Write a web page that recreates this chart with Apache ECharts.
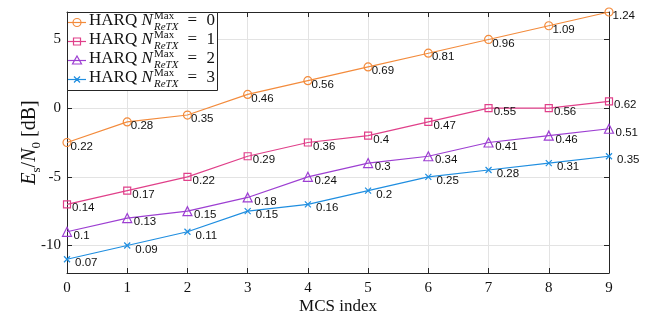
<!DOCTYPE html>
<html>
<head>
<meta charset="utf-8">
<script src="https://cdn.jsdelivr.net/npm/echarts@6/dist/echarts.min.js"></script>
<style>
html,body{margin:0;padding:0;background:#fff;}
#chart{width:651px;height:324px;}
</style>
</head>
<body>
<div id="chart"></div>
<script>
// ---- data ----
const mcsIndex = [0, 1, 2, 3, 4, 5, 6, 7, 8, 9];
const seriesNames = ['HARQ N_ReTX^Max = 0', 'HARQ N_ReTX^Max = 1', 'HARQ N_ReTX^Max = 2', 'HARQ N_ReTX^Max = 3'];
const retxValues = ['0', '1', '2', '3'];
const esn0Harq0 = [-2.5, -1, -0.5, 1, 2, 3, 4, 5, 6, 7];
const esn0Harq1 = [-7, -6, -5, -3.5, -2.5, -2, -1, 0, 0, 0.5];
const esn0Harq2 = [-9, -8, -7.5, -6.5, -5, -4, -3.5, -2.5, -2, -1.5];
const esn0Harq3 = [-11, -10, -9, -7.5, -7, -6, -5, -4.5, -4, -3.5];
const labelsHarq0 = ['0.22', '0.28', '0.35', '0.46', '0.56', '0.69', '0.81', '0.96', '1.09', '1.24'];
const labelsHarq1 = ['0.14', '0.17', '0.22', '0.29', '0.36', '0.4', '0.47', '0.55', '0.56', '0.62'];
const labelsHarq2 = ['0.1', '0.13', '0.15', '0.18', '0.24', '0.3', '0.34', '0.41', '0.46', '0.51'];
const labelsHarq3 = ['0.07', '0.09', '0.11', '0.15', '0.16', '0.2', '0.25', '0.28', '0.31', '0.35'];
const yTickValues = [-10, -5, 0, 5];

// ---- styling ----
const serif = '"Liberation Serif", "DejaVu Serif", serif';
const sans = '"Liberation Sans", Arial, sans-serif';
const axisColor = '#262626';
const gridColor = '#e3e3e3';
const colors = ['#f38b3c', '#e0408a', '#9d3fd2', '#1f8ee0'];
const crossPath = 'path://M0,0L10,10M10,0L0,10';
const symbols = ['circle', 'rect', 'triangle', crossPath];
const symbolSizes = [8, 7, 9, 6];
const labelDx = [3, 4.5, 6, 7.5];

const allValues = [esn0Harq0, esn0Harq1, esn0Harq2, esn0Harq3];
const allLabels = [labelsHarq0, labelsHarq1, labelsHarq2, labelsHarq3];

const series = allValues.map((vals, k) => ({
  name: seriesNames[k],
  type: 'line',
  data: mcsIndex.map((x, i) => [x, vals[i]]),
  symbol: symbols[k],
  symbolSize: symbolSizes[k],
  showAllSymbol: true,
  lineStyle: { color: colors[k], width: 1.2 },
  itemStyle: { color: 'rgba(255,255,255,0)', borderColor: colors[k], borderWidth: 1.2 },
  label: {
    show: true,
    position: 'right',
    distance: 0,
    offset: [labelDx[k] - symbolSizes[k] / 2, 4],
    fontFamily: sans,
    fontSize: 11.5,
    color: '#111',
    formatter: p => allLabels[k][p.dataIndex]
  },
  emphasis: { disabled: true },
  z: 3
}));

// ---- legend drawn with graphic elements ----
const legendX = 67.5, legendY = 12.5, legendW = 150, legendH = 78;
const rowY = [22.5, 41.5, 60.5, 79.5];
const legendEls = [{
  type: 'rect',
  shape: { x: legendX, y: legendY, width: legendW, height: legendH },
  style: { fill: '#fff', stroke: axisColor, lineWidth: 1 },
  z: 10
}];
function iconShape(k, cx, cy) {
  const st = { fill: 'none', stroke: colors[k], lineWidth: 1.2 };
  if (k === 0) return { type: 'circle', shape: { cx, cy, r: 4 }, style: st, z: 12 };
  if (k === 1) return { type: 'rect', shape: { x: cx - 3.5, y: cy - 3.5, width: 7, height: 7 }, style: st, z: 12 };
  if (k === 2) return { type: 'polygon', shape: { points: [[cx, cy - 4.5], [cx + 4.5, cy + 3.5], [cx - 4.5, cy + 3.5]] }, style: st, z: 12 };
  return { type: 'polyline', shape: { points: [[cx - 3, cy - 3], [cx + 3, cy + 3], [cx, cy], [cx + 3, cy - 3], [cx - 3, cy + 3]] }, style: st, z: 12 };
}
rowY.forEach((y, k) => {
  legendEls.push({ type: 'line', shape: { x1: 68, y1: y, x2: 86, y2: y }, style: { stroke: colors[k], lineWidth: 1.2 }, z: 11 });
  legendEls.push(iconShape(k, 77, y));
  const t = (text, x, yy, size, italic) => ({
    type: 'text', z: 12,
    style: { text, x, y: yy, fontSize: size, fontFamily: serif, fontStyle: italic ? 'italic' : 'normal', fill: '#111', verticalAlign: 'middle', align: 'left' }
  });
  legendEls.push(t('HARQ', 89, y - 1.5, 17, false));
  legendEls.push(t('N', 141.5, y - 1.5, 17, true));
  legendEls.push(t('Max', 154, y - 6.5, 11, false));
  legendEls.push(t('ReTX', 154, y + 4.8, 11, true));
  legendEls.push(t('=', 187.5, y - 1.5, 17, false));
  legendEls.push(t(retxValues[k], 206.5, y - 1.5, 17, false));
});

const option = {
  animation: false,
  backgroundColor: '#fff',
  grid: { left: 67, right: 42, top: 12, bottom: 51 },
  xAxis: [{
    type: 'value', min: 0, max: 9, interval: 1,
    name: 'MCS index', nameLocation: 'middle', nameGap: 25, nameMoveOverlap: false,
    nameTextStyle: { fontFamily: serif, fontSize: 17, color: '#111' },
    axisLine: { show: true, onZero: false, lineStyle: { color: axisColor, width: 1 } },
    axisTick: { show: true, inside: true, length: 5, lineStyle: { color: axisColor } },
    axisLabel: { fontFamily: serif, fontSize: 15, color: '#111', margin: 8 },
    splitLine: { show: true, lineStyle: { color: gridColor, width: 1 } }
  }, {
    type: 'value', min: 0, max: 9, interval: 1, position: 'top',
    axisLine: { show: true, onZero: false, lineStyle: { color: axisColor, width: 1 } },
    axisTick: { show: true, inside: true, length: 5, lineStyle: { color: axisColor } },
    axisLabel: { show: false },
    splitLine: { show: false }
  }],
  yAxis: [{
    type: 'value', min: -12, max: 7,
    name: '{i|E}{s|s}{r|/}{i|N}{s|0}{r| [dB]}',
    nameLocation: 'middle', nameGap: 24, nameRotate: 90, nameMoveOverlap: false,
    nameTextStyle: {
      color: '#111',
      rich: {
        i: { fontFamily: serif, fontStyle: 'italic', fontSize: 20, color: '#111', lineHeight: 26 },
        r: { fontFamily: serif, fontSize: 20, color: '#111', lineHeight: 26 },
        s: { fontFamily: serif, fontSize: 13, color: '#111', verticalAlign: 'bottom', lineHeight: 26 }
      }
    },
    axisLine: { show: true, onZero: false, lineStyle: { color: axisColor, width: 1 } },
    axisTick: { show: true, inside: true, length: 5, customValues: yTickValues, lineStyle: { color: axisColor } },
    axisLabel: { customValues: yTickValues, fontFamily: serif, fontSize: 15, color: '#111', margin: 6 },
    splitLine: { show: true, lineStyle: { color: gridColor, width: 1 } }
  }, {
    type: 'value', min: -12, max: 7, position: 'right',
    axisLine: { show: true, onZero: false, lineStyle: { color: axisColor, width: 1 } },
    axisTick: { show: true, inside: true, length: 5, customValues: yTickValues, lineStyle: { color: axisColor } },
    axisLabel: { show: false },
    splitLine: { show: false }
  }],
  series: series,
  graphic: legendEls
};

const chart = echarts.init(document.getElementById('chart'), null, { renderer: 'canvas' });
chart.setOption(option);
</script>
</body>
</html>
